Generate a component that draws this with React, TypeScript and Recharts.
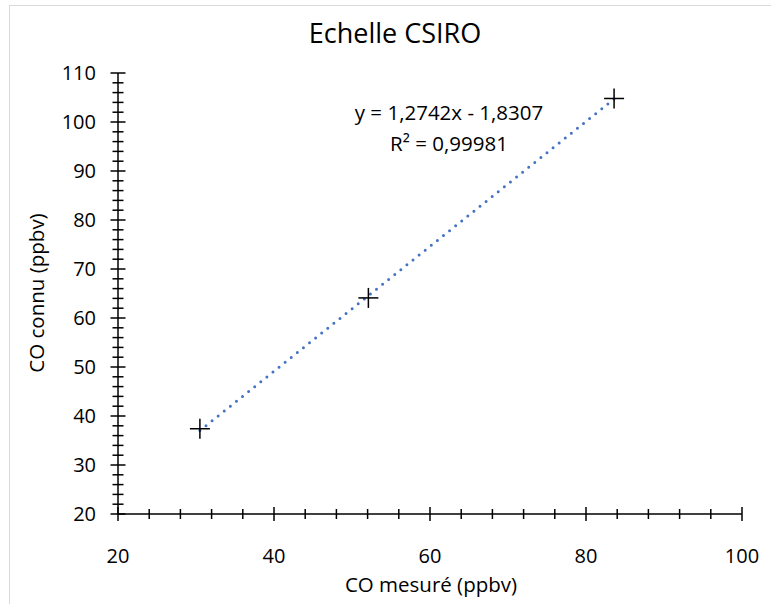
import { Scatter, ScatterChart, XAxis, YAxis } from 'recharts';

const mesure = [30.5, 52.1, 83.6];
const connu = [37.4, 64.1, 104.8];

// end points of the linear trend line as drawn
const trendX = [30.5, 83.6];
const trendY = [37.03, 104.7];

const xTicks = [20, 24, 28, 32, 36, 40, 44, 48, 52, 56, 60, 64, 68, 72, 76, 80, 84, 88, 92, 96, 100];
const xMajor = [20, 40, 60, 80, 100];
const yTicks = [20, 22, 24, 26, 28, 30, 32, 34, 36, 38, 40, 42, 44, 46, 48, 50, 52, 54, 56, 58, 60, 62, 64, 66, 68, 70, 72, 74, 76, 78, 80, 82, 84, 86, 88, 90, 92, 94, 96, 98, 100, 102, 104, 106, 108, 110];
const yMajor = [20, 30, 40, 50, 60, 70, 80, 90, 100, 110];

const title = 'Echelle CSIRO';
const xTitle = 'CO mesuré (ppbv)';
const yTitle = 'CO connu (ppbv)';
const equation = 'y = 1,2742x - 1,8307';
const r2 = 'R² = 0,99981';

const points = mesure.map((x, i) => ({ x, y: connu[i] }));
const trend = trendX.map((x, i) => ({ x, y: trendY[i] }));

const FONT = '"Open Sans", sans-serif';

function XTick(props: any) {
  const { x, y, payload } = props;
  const major = xMajor.includes(payload.value);
  const len = major ? 7 : 5;
  return (
    <g>
      <line x1={x} x2={x} y1={y - len} y2={y + len} stroke="#000" strokeWidth={1.5} />
      {major && (
        <text x={x} y={y + 49} textAnchor="middle" fontSize={20} fontFamily={FONT} fill="#000">
          {payload.value}
        </text>
      )}
    </g>
  );
}

function YTick(props: any) {
  const { x, y, payload } = props;
  const major = yMajor.includes(payload.value);
  const len = major ? 7.5 : 5.5;
  return (
    <g>
      <line x1={x - len} x2={x + len} y1={y} y2={y} stroke="#000" strokeWidth={1.5} />
      {major && (
        <text x={x - 22} y={y} dy="0.36em" textAnchor="end" fontSize={20} fontFamily={FONT} fill="#000">
          {payload.value}
        </text>
      )}
    </g>
  );
}

function Plus(props: any) {
  const { cx, cy } = props;
  return (
    <g>
      <line x1={cx - 10} x2={cx + 10} y1={cy} y2={cy} stroke="#000" strokeWidth={1.5} />
      <line x1={cx} x2={cx} y1={cy - 10} y2={cy + 10} stroke="#000" strokeWidth={1.5} />
    </g>
  );
}

export default function App() {
  return (
    <div style={{ position: 'absolute', left: 0, top: 0, width: 771, height: 604, background: '#fff', overflow: 'hidden' }}>
      <div
        style={{
          position: 'absolute',
          left: 9,
          top: 5,
          width: 800,
          height: 640,
          borderTop: '1px solid #d9d9d9',
          borderLeft: '1px solid #d9d9d9',
        }}
      />
      <ScatterChart width={771} height={604} margin={{ top: 73, right: 29, bottom: 0, left: 0 }}>
        <XAxis
          type="number"
          dataKey="x"
          domain={[20, 100]}
          ticks={xTicks}
          interval={0}
          tickSize={0}
          tickMargin={0}
          height={90}
          axisLine={{ stroke: '#000', strokeWidth: 1.5 }}
          tickLine={false}
          tick={XTick}
          allowDataOverflow
        />
        <YAxis
          type="number"
          dataKey="y"
          domain={[20, 110]}
          ticks={yTicks}
          interval={0}
          tickSize={0}
          tickMargin={0}
          width={118}
          axisLine={{ stroke: '#000', strokeWidth: 1.5 }}
          tickLine={false}
          tick={YTick}
          allowDataOverflow
        />
        <Scatter
          data={trend}
          line={{ stroke: '#4472C4', strokeWidth: 3, strokeDasharray: '0 7.8', strokeLinecap: 'round' }}
          shape={() => null}
          isAnimationActive={false}
        />
        <Scatter data={points} shape={Plus} isAnimationActive={false} />
      </ScatterChart>
      <svg width={771} height={604} style={{ position: 'absolute', left: 0, top: 0, pointerEvents: 'none' }}>
        <text x={395} y={43} textAnchor="middle" fontSize={27} fontFamily={FONT} fill="#000">
          {title}
        </text>
        <text x={431} y={592} textAnchor="middle" fontSize={20.5} fontFamily={FONT} fill="#000">
          {xTitle}
        </text>
        <text
          x={0}
          y={0}
          transform="translate(44 293) rotate(-90)"
          textAnchor="middle"
          fontSize={20.5}
          fontFamily={FONT}
          fill="#000"
        >
          {yTitle}
        </text>
        <text x={449} y={120} textAnchor="middle" fontSize={20.5} fontFamily={FONT} fill="#000">
          {equation}
        </text>
        <text x={449} y={151} textAnchor="middle" fontSize={20.5} fontFamily={FONT} fill="#000">
          {r2}
        </text>
      </svg>
    </div>
  );
}
